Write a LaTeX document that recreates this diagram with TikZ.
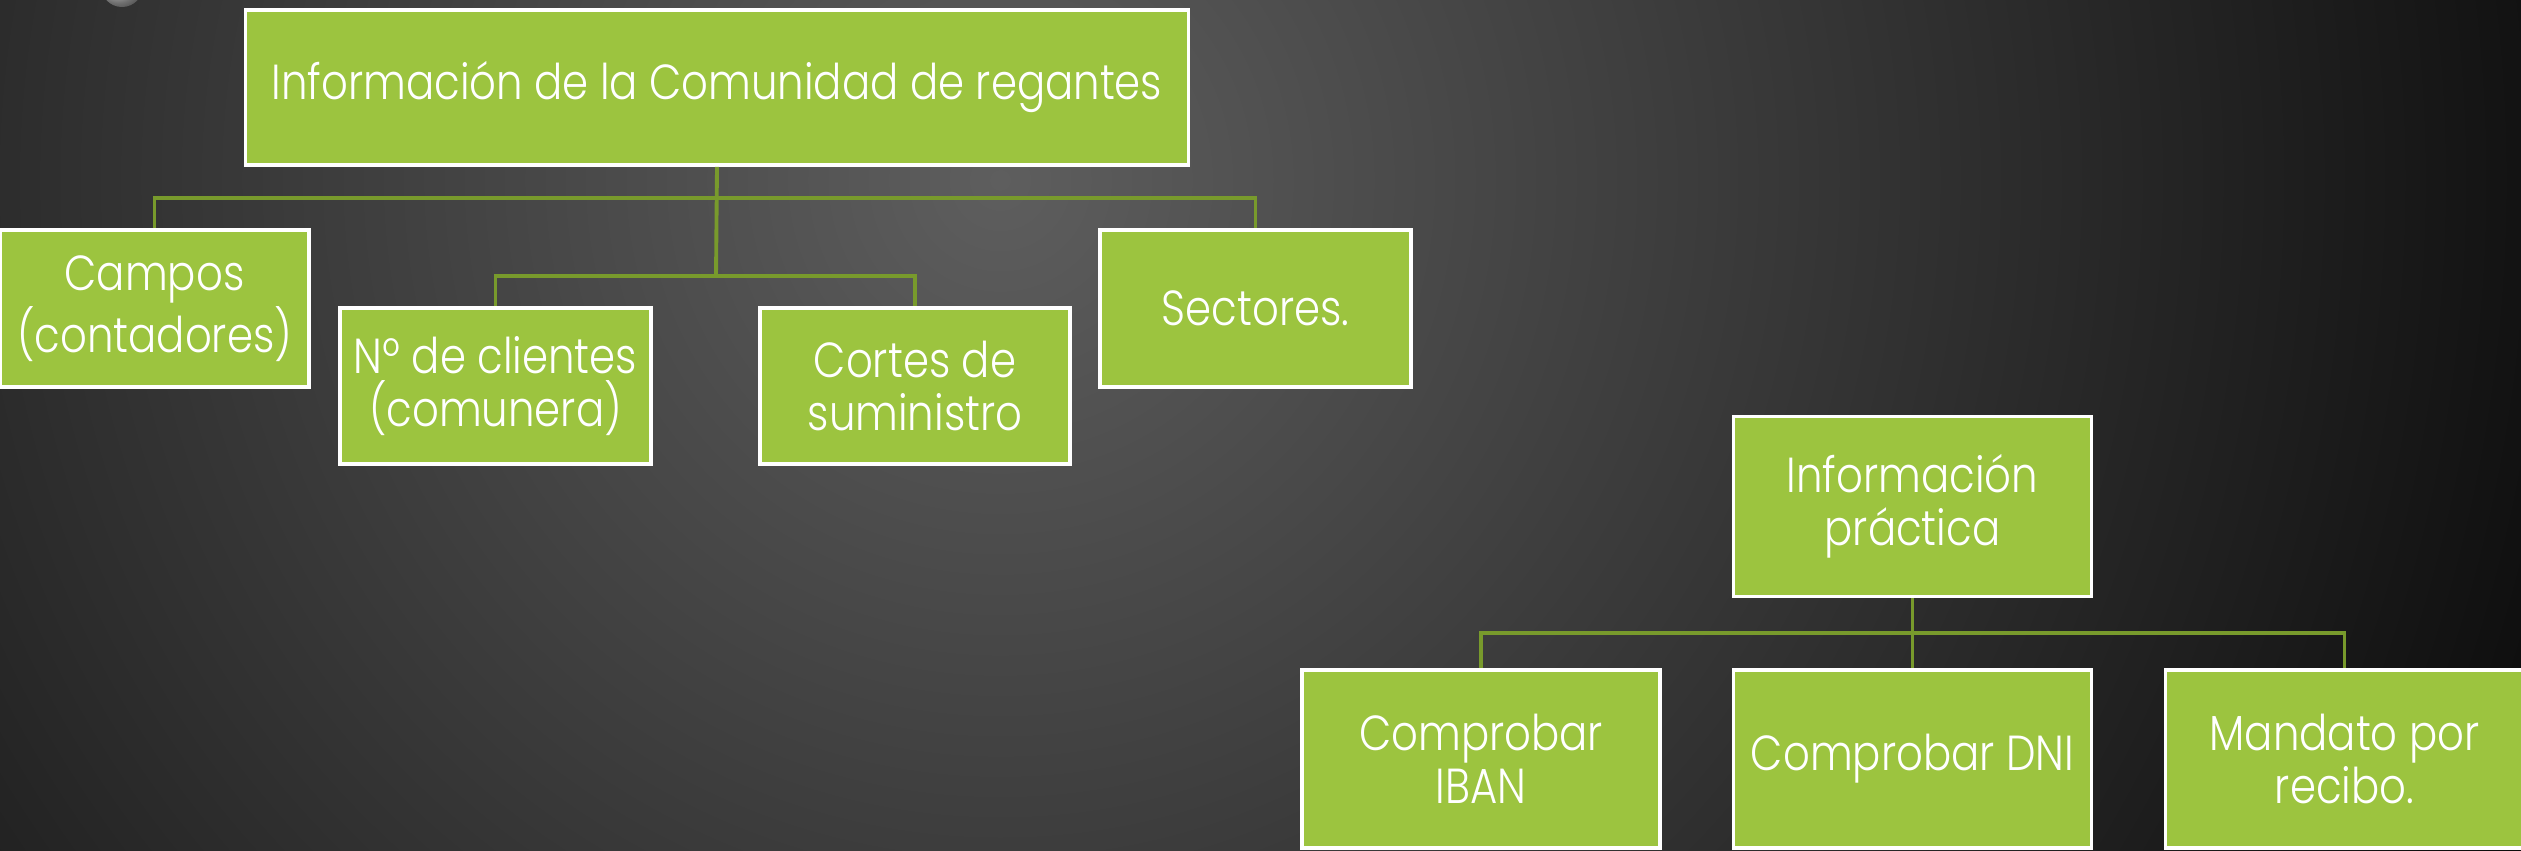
\documentclass[tikz,border=0pt]{standalone}
\usepackage{fontspec}
\setmainfont{Poppins Light}[FakeStretch=0.85]
\definecolor{leaf}{HTML}{9CC43F}
\definecolor{stem}{HTML}{789A2C}
\definecolor{slate}{HTML}{5E5E5E}
\begin{document}
\begin{tikzpicture}[x=0.01cm,y=-0.01cm,
    card/.style={draw=white,line width=1pt,fill=leaf,text=white,align=center,inner sep=0pt,
      font=\fontsize{14}{15}\selectfont},
    link/.style={draw=stem,line width=1.1pt}]
  \clip (0,0) rectangle (2521,850);
  \fill[black] (0,0) rectangle (2521,850);
  \shade[inner color=slate,outer color=black] (1000,180) circle (1900);
  \shade[ball color=white!75!gray] (122,-14) circle (21);
  \node[card,minimum width=9.42cm,minimum height=1.55cm] (comunidad) at (717,87.5) {Información de la Comunidad de regantes};
  \node[card,minimum width=3.09cm,minimum height=1.57cm] (campos) at (154.5,308.5) {Campos\\(contadores)};
  \node[card,minimum width=3.11cm,minimum height=1.56cm] (clientes) at (495.5,386) {Nº de clientes\\(comunera)};
  \node[card,minimum width=3.10cm,minimum height=1.56cm] (cortes) at (915,386) {Cortes de\\suministro};
  \node[card,minimum width=3.11cm,minimum height=1.57cm] (sectores) at (1255.5,308.5) {Sectores.};
  \node[card,minimum width=3.58cm,minimum height=1.80cm] (practica) at (1912.5,506.5) {Información\\práctica};
  \node[card,minimum width=3.58cm,minimum height=1.78cm] (iban) at (1481,759) {Comprobar\\IBAN};
  \node[card,minimum width=3.58cm,minimum height=1.78cm] (dni) at (1912.5,759) {Comprobar DNI};
  \node[card,minimum width=3.58cm,minimum height=1.78cm] (mandato) at (2344.5,759) {Mandato por\\recibo.};
  \coordinate (hubA) at (716,198);
  \coordinate (hubB) at (716,276);
  \coordinate (hubC) at (1912.5,633);
  \draw[link] (comunidad.south) -- (hubB);
  \draw[link] (campos.north) |- (hubA) -| (sectores.north);
  \draw[link] (clientes.north) |- (hubB) -| (cortes.north);
  \draw[link] (practica.south) -- (dni.north);
  \draw[link] (iban.north) |- (hubC) -| (mandato.north);
\end{tikzpicture}
\end{document}
